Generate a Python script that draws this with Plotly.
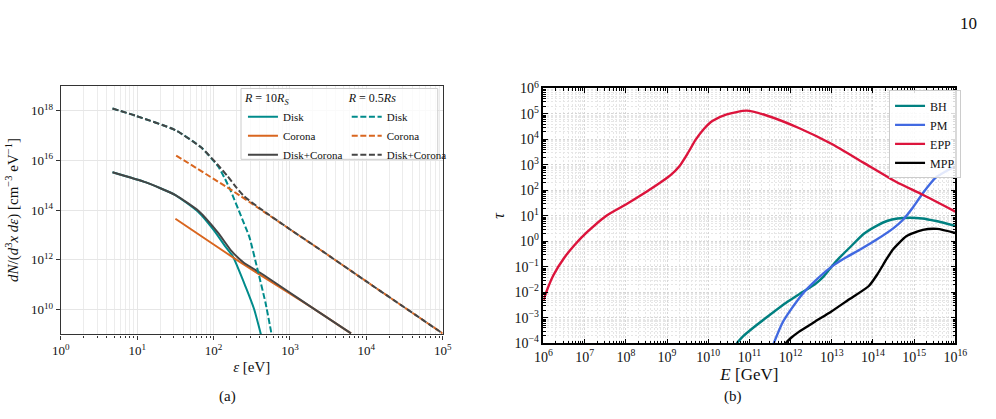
import numpy as np
import plotly.graph_objects as go

# ---------------- Panel (a) data: log10(energy [eV]) and log10(dN/d3x de) ----------------
a_disk10_logx = [0.676, 1.115, 1.50, 1.80, 2.0, 2.15, 2.25, 2.42, 2.53, 2.62]
a_disk10_logy = [15.52, 15.11, 14.60, 13.92, 13.2, 12.55, 12.15, 10.91, 10.02, 9.0]
a_cor10_logx = [1.50, 2.40, 3.29, 3.80]
a_cor10_logy = [13.65, 11.80, 10.08, 9.04]
a_tot10_logx = [0.676, 1.115, 1.50, 1.80, 2.06, 2.23, 2.40, 2.61, 3.29, 3.80]
a_tot10_logy = [15.52, 15.11, 14.60, 13.97, 13.08, 12.37, 11.87, 11.48, 10.08, 9.04]

a_disk05_logx = [0.676, 0.987, 1.50, 1.84, 2.06, 2.15, 2.23, 2.36, 2.47, 2.57, 2.68, 2.76]
a_disk05_logy = [18.08, 17.78, 17.21, 16.51, 15.75, 15.25, 14.73, 13.75, 12.9, 11.68, 10.27, 9.0]
a_cor05_logx = [1.51, 2.27, 3.04, 3.38, 4.02, 5.0]
a_cor05_logy = [16.19, 14.73, 13.14, 12.44, 11.09, 9.04]
a_tot05_logx = [0.676, 0.987, 1.50, 1.84, 2.06, 2.18, 2.30, 2.40, 2.6, 3.04, 3.38, 4.02, 5.0]
a_tot05_logy = [18.08, 17.78, 17.21, 16.51, 15.80, 15.37, 14.90, 14.55, 14.08, 13.14, 12.44, 11.09, 9.04]

a_xtick_exp = [0, 1, 2, 3, 4, 5]
a_ytick_exp = [10, 12, 14, 16, 18]

# ---------------- Panel (b) data: log10(E [GeV]) and log10(tau) ----------------
b_bh_logx = [10.69, 10.85, 11.1, 11.5, 11.9, 12.28, 12.59, 12.8, 12.99, 13.2, 13.45, 13.78, 14.1, 14.34,
             14.6, 14.89, 15.2, 15.53, 16.0]
b_bh_logy = [-4.0, -3.72, -3.38, -2.88, -2.4, -2.0, -1.68, -1.38, -1.0, -0.62, -0.22, 0.3, 0.62, 0.8,
             0.9, 0.93, 0.9, 0.8, 0.61]
b_pm_logx = [11.59, 11.8, 12.04, 12.28, 12.59, 12.99, 13.30, 13.70, 14.10, 14.50, 14.73, 14.97, 15.21, 15.53, 16.0]
b_pm_logy = [-4.0, -3.2, -2.6, -2.08, -1.56, -1.0, -0.67, -0.31, 0.08, 0.52, 0.85, 1.33, 1.89, 2.51, 2.95]
b_epp_logx = [6.0, 6.1, 6.25, 6.5, 6.75, 7.05, 7.52, 8.0, 8.5, 8.9, 9.1, 9.3, 9.5, 9.7, 9.9, 10.1, 10.45,
              10.93, 11.40, 12.20, 12.99, 13.78, 14.57, 15.21, 16.0]
b_epp_logy = [-2.31, -1.85, -1.3, -0.65, -0.15, 0.35, 1.0, 1.45, 1.95, 2.38, 2.62, 2.95, 3.45, 4.0, 4.42, 4.72, 4.98,
              5.13, 4.95, 4.45, 3.83, 3.08, 2.33, 1.83, 1.17]
b_mpp_logx = [11.88, 12.0, 12.2, 12.59, 12.99, 13.39, 13.90, 14.10, 14.34, 14.49, 14.81, 15.21, 15.56, 16.0]
b_mpp_logy = [-4.0, -3.8, -3.55, -3.15, -2.75, -2.31, -1.75, -1.31, -0.67, -0.31, 0.20, 0.45, 0.49, 0.33]

b_xtick_exp = list(range(6, 17))
b_ytick_exp = list(range(-4, 7))

TEAL = "#008B8B"
ORANGE = "#D9661F"
GRAY = "#454545"
FONT = "Liberation Serif"


def p(v):
    return 10 ** np.array(v, dtype=float)


def sup(e):
    s = str(e).replace("-", "\u2212")
    return "10<sup>" + s + "</sup>"


fig = go.Figure()

lw_a = 2.0
dash = "6px,2.6px"
sm = 0.5
specs_a = [
    ("Disk", a_disk10_logx, a_disk10_logy, TEAL, "solid", "legend"),
    ("Corona", a_cor10_logx, a_cor10_logy, ORANGE, "solid", "legend"),
    ("Disk+Corona", a_tot10_logx, a_tot10_logy, GRAY, "solid", "legend"),
    ("Disk", a_disk05_logx, a_disk05_logy, TEAL, dash, "legend2"),
    ("Corona", a_cor05_logx, a_cor05_logy, ORANGE, dash, "legend2"),
    ("Disk+Corona", a_tot05_logx, a_tot05_logy, GRAY, dash, "legend2"),
]
for nm, xs, ys, col, ds, lg in specs_a:
    fig.add_trace(go.Scatter(x=p(xs), y=p(ys), mode="lines", name=nm,
                             line=dict(color=col, width=lw_a, dash=ds, shape="spline", smoothing=sm),
                             legend=lg, xaxis="x", yaxis="y"))

lw_b = 2.4
for nm, xs, ys, col in [("BH", b_bh_logx, b_bh_logy, "#008080"),
                        ("PM", b_pm_logx, b_pm_logy, "#4169E1"),
                        ("EPP", b_epp_logx, b_epp_logy, "#DC143C"),
                        ("MPP", b_mpp_logx, b_mpp_logy, "#000000")]:
    fig.add_trace(go.Scatter(x=p(xs), y=p(ys), mode="lines", name=nm,
                             line=dict(color=col, width=lw_b, shape="spline", smoothing=0.6),
                             legend="legend3", xaxis="x2", yaxis="y2"))

W, H = 996, 419
ax_l, ax_r, ay_t, ay_b = 53, 443, 79, 339
bx_l, bx_r, by_t, by_b = 546, 966.7, 82, 348.3


def minor_vals(lo, hi):
    out = []
    for d in range(lo, hi):
        for m in range(2, 10):
            out.append(m * 10.0 ** d)
    return out


tickfont = dict(family=FONT, size=13, color="#111")
tickfont_b = dict(family=FONT, size=14, color="#111")
gdash = "2px,2px"

fig.update_layout(
    width=W, height=H, margin=dict(l=0, r=0, t=0, b=0), autosize=False,
    paper_bgcolor="white", plot_bgcolor="white",
    font=dict(family=FONT, color="#111"),
    xaxis=dict(type="log", domain=[ax_l / W, ax_r / W], range=[0, 5], anchor="y",
               tickmode="array", tickvals=p(a_xtick_exp), ticktext=[sup(e) for e in a_xtick_exp],
               ticks="outside", ticklen=4, tickcolor="#333", tickfont=tickfont,
               showline=True, linecolor="#333", linewidth=1.3, mirror=True,
               showgrid=True, gridcolor="#e6e6e6", gridwidth=1,
               minor=dict(tickmode="array", tickvals=minor_vals(0, 5), ticks="outside", ticklen=2,
                          tickcolor="#333", showgrid=True, gridcolor="#ececec", gridwidth=1),
               title=dict(text="<i>ε</i> [eV]", font=dict(family=FONT, size=15), standoff=4),
               zeroline=False),
    yaxis=dict(type="log", domain=[1 - ay_b / H, 1 - ay_t / H], range=[9, 19], anchor="x",
               tickmode="array", tickvals=p(a_ytick_exp), ticktext=[sup(e) for e in a_ytick_exp],
               ticks="outside", ticklen=4, tickcolor="#333", tickfont=tickfont,
               showline=True, linecolor="#333", linewidth=1.3, mirror=True,
               showgrid=True, gridcolor="#e6e6e6", gridwidth=1,
               title=dict(text="<i>dN</i>/(<i>d</i><sup>3</sup><i>x dε</i>) [cm<sup>−3</sup> eV<sup>−1</sup>]",
                          font=dict(family=FONT, size=15), standoff=8),
               zeroline=False),
    xaxis2=dict(type="log", domain=[bx_l / W, bx_r / W], range=[6, 16], anchor="y2",
                tickmode="array", tickvals=p(b_xtick_exp), ticktext=[sup(e) for e in b_xtick_exp],
                ticks="inside", ticklen=5, tickcolor="#000", tickfont=tickfont_b,
                showline=True, linecolor="#000", linewidth=1.5, mirror="allticks",
                showgrid=True, gridcolor="#d6d6d6", gridwidth=1, griddash=gdash,
                minor=dict(tickmode="array", tickvals=minor_vals(6, 16), ticks="inside", ticklen=2.5,
                           tickcolor="#000", showgrid=True, gridcolor="#e6e6e6", gridwidth=1, griddash=gdash),
                title=dict(text="<i>E</i> [GeV]", font=dict(family=FONT, size=17), standoff=2),
                zeroline=False),
    yaxis2=dict(type="log", domain=[1 - by_b / H, 1 - by_t / H], range=[-4, 6], anchor="x2",
                tickmode="array", tickvals=p(b_ytick_exp), ticktext=[sup(e) for e in b_ytick_exp],
                ticks="inside", ticklen=5, tickcolor="#000", tickfont=tickfont_b,
                showline=True, linecolor="#000", linewidth=1.5, mirror="allticks",
                showgrid=True, gridcolor="#d6d6d6", gridwidth=1, griddash=gdash,
                minor=dict(tickmode="array", tickvals=minor_vals(-4, 6), ticks="inside", ticklen=2.5,
                           tickcolor="#000", showgrid=True, gridcolor="#e6e6e6", gridwidth=1, griddash=gdash),
                title=dict(text="<i>τ</i>", font=dict(family=FONT, size=16), standoff=6),
                zeroline=False),
    legend=dict(x=239 / W, y=1 - 80 / H, xanchor="left", yanchor="top",
                bgcolor="rgba(0,0,0,0)", borderwidth=0, font=dict(family=FONT, size=11),
                title=dict(text="<i>R</i> = 10<i>R<sub>S</sub></i>", font=dict(family=FONT, size=12)),
                itemwidth=30, tracegroupgap=0),
    legend2=dict(x=345 / W, y=1 - 80 / H, xanchor="left", yanchor="top",
                 bgcolor="rgba(0,0,0,0)", borderwidth=0, font=dict(family=FONT, size=11),
                 title=dict(text="<i>R</i> = 0.5<i>Rs</i>", font=dict(family=FONT, size=12)),
                 itemwidth=30, tracegroupgap=0),
    legend3=dict(x=899 / W, y=1 - 84 / H, xanchor="left", yanchor="top",
                 bgcolor="rgba(255,255,255,0.85)", bordercolor="#cccccc", borderwidth=1,
                 font=dict(family=FONT, size=12), itemwidth=30, tracegroupgap=0),
    shapes=[dict(type="rect", xref="paper", yref="paper", x0=237 / W, x1=438 / W,
                 y0=1 - 156 / H, y1=1 - 82 / H, line=dict(color="#cccccc", width=1),
                 fillcolor="rgba(255,255,255,0.8)", layer="above")],
    annotations=[
        dict(text="10", x=980 / W, y=1 - 14 / H, xref="paper", yref="paper", showarrow=False,
             xanchor="center", yanchor="middle", font=dict(family=FONT, size=17, color="#111")),
        dict(text="(a)", x=223 / W, y=1 - 404 / H, xref="paper", yref="paper", showarrow=False,
             xanchor="center", yanchor="middle", font=dict(family=FONT, size=15, color="#111")),
        dict(text="(b)", x=740 / W, y=1 - 404 / H, xref="paper", yref="paper", showarrow=False,
             xanchor="center", yanchor="middle", font=dict(family=FONT, size=15, color="#111")),
    ],
)

fig.write_html("out.html",
               post_script="document.body.style.margin='0';document.body.style.padding='0';"
                           "document.body.style.overflow='hidden';")
